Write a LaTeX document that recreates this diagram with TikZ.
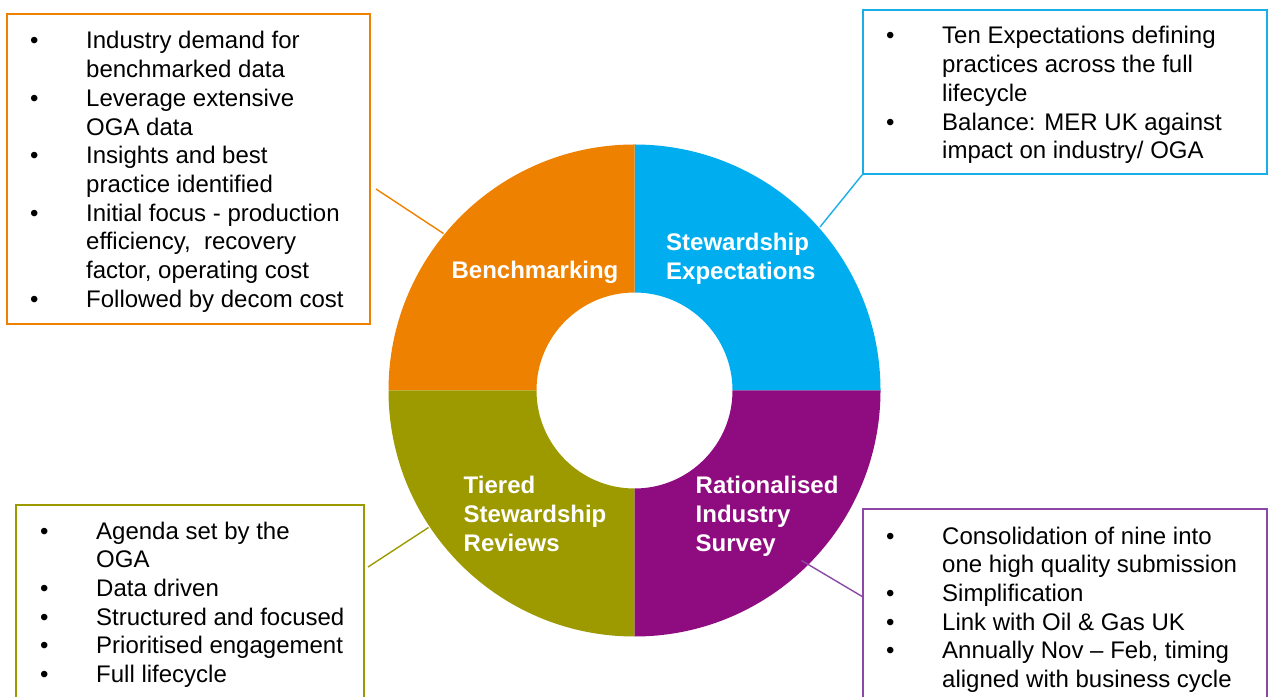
\documentclass[tikz,border=0pt]{standalone}
\usepackage{fontspec}
\setmainfont{Liberation Sans}
\usetikzlibrary{positioning}
\definecolor{benchorange}{HTML}{EE8100}
\definecolor{stewblue}{HTML}{00AEEF}
\definecolor{stewline}{HTML}{1AAEE6}
\definecolor{survpurple}{HTML}{8E0C80}
\definecolor{survline}{HTML}{8C48A6}
\definecolor{tierolive}{HTML}{9D9A00}
\tikzset{
  infobox/.style={draw=#1, line width=1.6pt, inner sep=0pt},
  seglabel/.style={text=white, font=\bfseries\fontsize{24}{29}\selectfont, inner sep=0pt},
  bullettext/.style={font=\fontsize{24}{28.7}\selectfont, inner sep=0pt, anchor=base west},
  link/.style={draw=#1, line width=1.4pt}
}
\newcommand{\itm}{\textbullet&}
\newenvironment{bullets}{\begin{tabular}[t]{@{}p{56pt}@{}l@{}}}{\end{tabular}}

\begin{document}
\begin{tikzpicture}[x=1pt,y=1pt]
\useasboundingbox (0,0) rectangle (1273,696);
%ring of four quarters
\begin{scope}[shift={(634.5,305.5)}]
\foreach \a/\col in {0/stewblue,90/benchorange,180/tierolive,270/survpurple}
  \fill[\col] (\a:98) -- (\a:246) arc[start angle=\a, delta angle=90, radius=246] -- (\a+90:98) arc[start angle=\a+90, delta angle=-90, radius=98] -- cycle;
\end{scope}
%labels on the ring
\node[seglabel, anchor=base] (bench) at (535,417) {Benchmarking};
\node[seglabel, anchor=base west] (stew) at (666,445) {\begin{tabular}[t]{@{}l@{}}Stewardship\\Expectations\end{tabular}};
\node[seglabel, anchor=base west] (tier) at (463.5,202.5) {\begin{tabular}[t]{@{}l@{}}Tiered\\Stewardship\\Reviews\end{tabular}};
\node[seglabel, anchor=base west] (surv) at (695.5,202.5) {\begin{tabular}[t]{@{}l@{}}Rationalised\\Industry\\Survey\end{tabular}};
%boxes
\node[infobox=benchorange, minimum width=363pt, minimum height=310pt] (benchbox) at (188.5,527) {};
\node[infobox=stewline, minimum width=404pt, minimum height=164pt] (stewbox) at (1065,604) {};
\node[infobox=tierolive, minimum width=348pt, minimum height=201pt] (tierbox) at (190,90.5) {};
\node[infobox=survline, minimum width=404pt, minimum height=197pt] (survbox) at (1065,88.5) {};
%box texts
\node[bullettext] (benchlist) at (30,647) {\begin{bullets}
\itm Industry demand for\\ & benchmarked data\\
\itm Leverage extensive\\ & OGA data\\
\itm Insights and best\\ & practice identified\\
\itm Initial focus - production\\ & efficiency,\ \ recovery\\ & factor, operating cost\\
\itm Followed by decom cost
\end{bullets}};
\node[bullettext] (stewlist) at (886,652) {\begin{bullets}
\itm Ten Expectations defining\\ & practices across the full\\ & lifecycle\\
\itm Balance: MER UK against\\ & impact on industry/ OGA
\end{bullets}};
\node[bullettext] (tierlist) at (40,157) {\begin{bullets}
\itm Agenda set by the\\ & OGA\\
\itm Data driven\\
\itm Structured and focused\\
\itm Prioritised engagement\\
\itm Full lifecycle
\end{bullets}};
\node[bullettext] (survlist) at (886,152) {\begin{bullets}
\itm Consolidation of nine into\\ & one high quality submission\\
\itm Simplification\\
\itm Link with Oil \& Gas UK\\
\itm Annually Nov -- Feb, timing\\ & aligned with business cycle
\end{bullets}};
%connectors
\coordinate (bench-out) at (376,507); \coordinate (bench-in) at (443.5,462.5);
\coordinate (stew-in) at (820,469);
\coordinate (tier-out) at (368,129); \coordinate (tier-in) at (428.5,168.5);
\coordinate (surv-in) at (801.5,135.5); \coordinate (surv-out) at (863,99);
\draw[link=benchorange] (bench-out) -- (bench-in);
\draw[link=stewline] (stew-in) -- (stewbox.south west);
\draw[link=tierolive] (tier-out) -- (tier-in);
\draw[link=survline] (surv-in) -- (surv-out);
\end{tikzpicture}
\end{document}
